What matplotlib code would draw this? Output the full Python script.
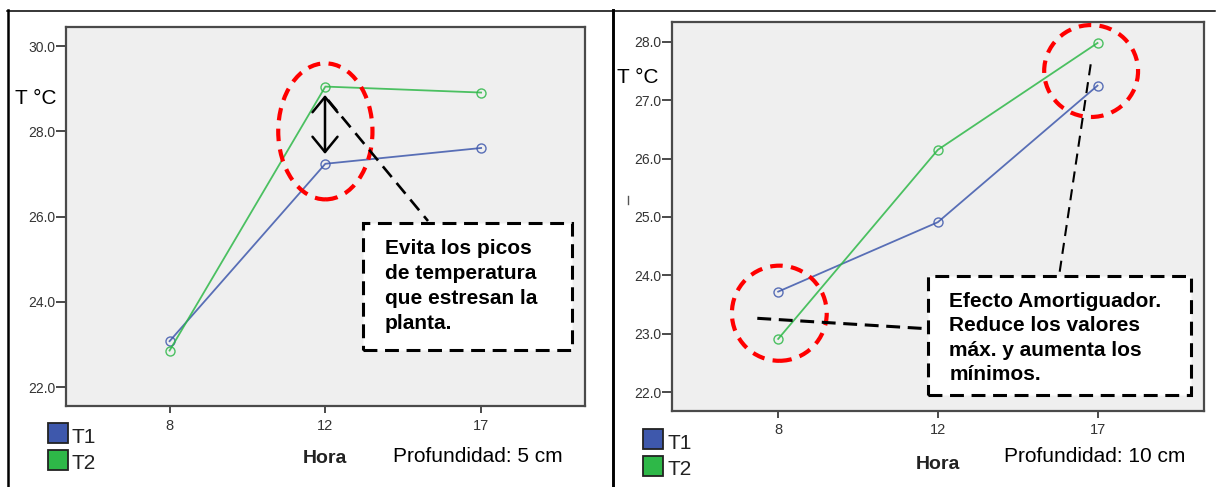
import matplotlib
matplotlib.use("Agg")
import matplotlib.pyplot as plt
from matplotlib.patches import Rectangle, Ellipse, FancyArrowPatch
from matplotlib.lines import Line2D

plt.rcParams["font.family"] = ["Liberation Sans", "DejaVu Sans"]
plt.rcParams["lines.scale_dashes"] = False

# ---- data -------------------------------------------------------------
hours = ["8", "12", "17"]
t1_5cm = [23.08, 27.24, 27.61]
t2_5cm = [22.86, 29.05, 28.91]
t1_10cm = [23.72, 24.91, 27.25]
t2_10cm = [22.91, 26.15, 27.98]
yticks_5cm = [22.0, 24.0, 26.0, 28.0, 30.0]
yticks_10cm = [22.0, 23.0, 24.0, 25.0, 26.0, 27.0, 28.0]
series_names = ["T1", "T2"]

BLUE = "#3e58ac"
GREEN = "#2eb848"
BG = "#efefef"

W, H = 1216, 487
fig = plt.figure(figsize=(W / 100, H / 100), dpi=100)


def fx(x):
    return x / W


def fy(y):
    return 1 - y / H


def add_axes_px(left, top, right, bottom):
    return fig.add_axes([fx(left), fy(bottom), (right - left) / W, (bottom - top) / H])


def draw_panel(ax, t1, t2, ylim, yticks):
    ax.set_facecolor(BG)
    x = range(len(hours))
    for vals, col in ((t1, BLUE), (t2, GREEN)):
        ax.plot(x, vals, color=col, lw=1.3, marker="o", ms=6.5,
                mfc="none", mec=col, mew=1.0, alpha=0.85)
    ax.set_xlim(-0.667, 2.667)
    ax.set_ylim(*ylim)
    ax.set_xticks(list(x), hours)
    ax.set_yticks(yticks, [f"{v:.1f}" for v in yticks])
    for s in ax.spines.values():
        s.set_color("#4a4a4a")
        s.set_linewidth(1.6)
    ax.tick_params(axis="y", length=7, width=1.4, pad=0.5, labelsize=10,
                   colors="#4a4a4a", labelcolor="#333333")
    ax.tick_params(axis="x", length=5, width=1.4, pad=4, labelsize=10.5,
                   colors="#4a4a4a", labelcolor="#333333")


def fig_line(x1, y1, x2, y2, lw, dashes=None, color="black", z=3):
    ls = "-" if dashes is None else (0, dashes)
    fig.add_artist(Line2D([fx(x1), fx(x2)], [fy(y1), fy(y2)], color=color,
                          lw=lw, linestyle=ls, zorder=z))


def dashed_box(left, top, right, bottom):
    fig.add_artist(Rectangle((fx(left), fy(bottom)), (right - left) / W,
                             (bottom - top) / H, facecolor="white",
                             edgecolor="black", lw=2.2, linestyle=(0, (10, 5.5)),
                             zorder=4))


def legend(x, ys, text_x, baselines):
    for (top, col), base, name in zip(zip(ys, (BLUE, GREEN)), baselines, series_names):
        fig.add_artist(Rectangle((fx(x), fy(top + 20)), 20 / W, 20 / H,
                                 facecolor=col, edgecolor="#222222", lw=1.3,
                                 zorder=4))
        fig.text(fx(text_x), fy(base), name, fontsize=15, va="baseline",
                 ha="left", color="#222222")


# ---- table borders ----------------------------------------------------
fig_line(7, 10.7, 1215, 10.7, 1.1)
fig_line(8, 10, 8, 487, 1.8)
fig_line(612.5, 10, 612.5, 487, 2.1)

# ---- left panel: 5 cm -------------------------------------------------
ax1 = add_axes_px(65.7, 27.3, 585, 406)
draw_panel(ax1, t1_5cm, t2_5cm, (21.56, 30.44), yticks_5cm)

fig.text(fx(15), fy(104), "T °C", fontsize=15, va="baseline", ha="left")
fig.text(fx(325), fy(463), "Hora", fontsize=14, fontweight="bold",
         va="baseline", ha="center", color="#222222")
fig.text(fx(393), fy(462), "Profundidad: 5 cm", fontsize=15, va="baseline",
         ha="left")
legend(47.7, (423, 450), 71, (443, 469.3))

ax1.add_patch(Ellipse((1, 28.0), 0.605, 3.19, fill=False, edgecolor="#ff0000",
                      lw=3.0, linestyle=(0, (9, 6)), clip_on=False, zorder=5))
fig.add_artist(FancyArrowPatch((fx(325), fy(95)), (fx(325), fy(154)),
                               arrowstyle="<->,head_length=0.55,head_width=0.45",
                               mutation_scale=20, lw=1.8, color="black",
                               shrinkA=0, shrinkB=0, zorder=6))
fig_line(328, 100, 428, 221, 1.9, dashes=(10, 5.5))
dashed_box(363.3, 223.3, 572.3, 349.7)
for line, base in zip(["Evita los picos", "de temperatura",
                       "que estresan la", "planta."],
                      [254.3, 279.0, 303.8, 328.6]):
    fig.text(fx(385), fy(base), line, fontsize=15, fontweight="bold",
             va="baseline", ha="left", zorder=7)

# ---- right panel: 10 cm -----------------------------------------------
ax2 = add_axes_px(671.7, 21.7, 1204, 411)
draw_panel(ax2, t1_10cm, t2_10cm, (21.675, 28.345), yticks_10cm)

fig.text(fx(616.7), fy(83.3), "T °C", fontsize=15, va="baseline", ha="left")
fig_line(627.7, 196, 627.7, 204, 1.0, color="#555555")
fig.text(fx(938), fy(468.7), "Hora", fontsize=14, fontweight="bold",
         va="baseline", ha="center", color="#222222")
fig.text(fx(1004), fy(462), "Profundidad: 10 cm", fontsize=15, va="baseline",
         ha="left")
legend(643, (429, 456), 667, (448.7, 475.3))

ax2.add_patch(Ellipse((1.96, 27.5), 0.588, 1.575, fill=False, edgecolor="#ff0000",
                      lw=3.0, linestyle=(0, (9, 6)), clip_on=False, zorder=5))
ax2.add_patch(Ellipse((0.007, 23.35), 0.594, 1.63, fill=False, edgecolor="#ff0000",
                      lw=3.0, linestyle=(0, (9, 6)), clip_on=False, zorder=5))
fig_line(1090.7, 64.3, 1059.3, 274.3, 1.5, dashes=(8, 5))
fig_line(757.3, 318.3, 926.7, 328.7, 2.2, dashes=(10, 5.5))
dashed_box(927.7, 276.3, 1190.7, 395.3)
for line, base in zip(["Efecto Amortiguador.", "Reduce los valores",
                       "máx. y aumenta los", "mínimos."],
                      [307.0, 331.3, 355.5, 379.7]):
    fig.text(fx(949.3), fy(base), line, fontsize=15, fontweight="bold",
             va="baseline", ha="left", zorder=7)

fig.savefig("out.png", dpi=100, facecolor="white")
